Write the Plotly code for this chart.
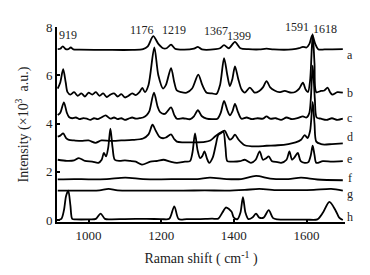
import plotly.graph_objects as go

# ---- data ----
a_x = [915, 922, 929, 937, 944, 951, 958, 975, 1050, 1120, 1150, 1163, 1178, 1192, 1205, 1215, 1227, 1238, 1260, 1290, 1301, 1312, 1350, 1362, 1373, 1386, 1403, 1418, 1440, 1470, 1490, 1510, 1560, 1580, 1590, 1600, 1608, 1616, 1624, 1632, 1650, 1700]
a_y = [7.08, 7.1, 7.2, 7.08, 7.08, 7.15, 7.07, 7.06, 7.05, 7.05, 7.08, 7.2, 7.62, 7.3, 7.12, 7.12, 7.27, 7.1, 7.06, 7.1, 7.18, 7.07, 7.08, 7.12, 7.25, 7.12, 7.38, 7.12, 7.08, 7.07, 7.1, 7.07, 7.07, 7.12, 7.18, 7.15, 7.3, 7.66, 7.3, 7.08, 7.07, 7.08]

b_x = [915, 922, 930, 937, 942, 950, 960, 970, 980, 990, 1000, 1010, 1020, 1030, 1040, 1050, 1060, 1070, 1080, 1090, 1100, 1110, 1120, 1130, 1140, 1148, 1155, 1165, 1181, 1192, 1205, 1213, 1227, 1236, 1243, 1255, 1270, 1285, 1302, 1313, 1325, 1340, 1352, 1362, 1373, 1382, 1389, 1396, 1403, 1412, 1421, 1430, 1444, 1457, 1470, 1480, 1490, 1500, 1512, 1525, 1540, 1558, 1570, 1580, 1590, 1598, 1604, 1610, 1617, 1622, 1627, 1640, 1649, 1658, 1665, 1671, 1685, 1700]
b_y = [5.45, 5.7, 6.25, 5.7, 5.3, 5.2, 5.3, 5.15, 5.25, 5.12, 5.28, 5.2, 5.3, 5.15, 5.25, 5.1, 5.2, 5.25, 5.12, 5.22, 5.08, 5.15, 5.25, 5.18, 5.3, 5.48, 5.3, 5.6, 7.15, 6.0, 5.45, 5.6, 6.3, 5.7, 5.37, 5.3, 5.28, 5.45, 6.03, 5.6, 5.28, 5.25, 5.22, 5.6, 6.71, 6.0, 5.55, 5.85, 6.37, 5.85, 5.42, 5.28, 5.49, 5.28, 5.35, 5.5, 5.76, 5.5, 5.37, 5.3, 5.35, 5.28, 5.32, 5.45, 5.69, 5.4, 5.3, 5.8, 7.7, 6.5, 5.3, 5.35, 5.37, 5.49, 5.3, 5.2, 5.3, 5.28]

c_x = [915, 922, 932, 940, 946, 955, 965, 975, 985, 995, 1005, 1015, 1025, 1035, 1047, 1060, 1070, 1080, 1090, 1100, 1110, 1120, 1130, 1140, 1150, 1160, 1167, 1180, 1190, 1197, 1210, 1227, 1236, 1243, 1260, 1280, 1290, 1301, 1312, 1325, 1340, 1355, 1364, 1373, 1382, 1389, 1396, 1403, 1412, 1421, 1435, 1450, 1465, 1480, 1490, 1500, 1515, 1530, 1545, 1560, 1575, 1590, 1600, 1608, 1617, 1623, 1628, 1640, 1655, 1670, 1685, 1700]
c_y = [4.35, 4.45, 4.88, 4.45, 4.27, 4.22, 4.25, 4.18, 4.22, 4.2, 4.15, 4.22, 4.18, 4.25, 4.34, 4.2, 4.25, 4.18, 4.22, 4.15, 4.2, 4.25, 4.2, 4.22, 4.25, 4.35, 4.5, 5.28, 4.7, 4.47, 4.4, 4.67, 4.35, 4.2, 4.22, 4.18, 4.3, 4.55, 4.3, 4.2, 4.18, 4.2, 4.45, 4.94, 4.55, 4.34, 4.5, 4.81, 4.45, 4.2, 4.25, 4.18, 4.22, 4.2, 4.3, 4.2, 4.22, 4.15, 4.25, 4.18, 4.22, 4.3, 4.25, 4.45, 6.4, 5.0, 4.25, 4.2, 4.15, 4.22, 4.15, 4.2]

d_x = [915, 922, 930, 938, 946, 960, 980, 1000, 1019, 1035, 1060, 1090, 1120, 1150, 1165, 1176, 1185, 1195, 1205, 1213, 1227, 1236, 1243, 1260, 1290, 1320, 1335, 1348, 1360, 1367, 1375, 1382, 1389, 1396, 1403, 1412, 1420, 1430, 1460, 1490, 1521, 1550, 1570, 1585, 1595, 1603, 1610, 1617, 1622, 1627, 1640, 1649, 1670, 1700]
d_y = [3.46, 3.5, 3.59, 3.4, 3.32, 3.3, 3.28, 3.3, 3.2, 3.3, 3.28, 3.3, 3.32, 3.38, 3.55, 3.95, 3.7, 3.45, 3.39, 3.42, 3.55, 3.35, 3.25, 3.22, 3.22, 3.24, 3.3, 3.46, 3.6, 3.66, 3.7, 3.5, 3.33, 3.4, 3.54, 3.35, 3.22, 3.1, 3.05, 3.08, 3.1, 3.15, 3.22, 3.33, 3.52, 3.4, 3.7, 4.9, 4.0, 3.25, 3.15, 3.13, 3.15, 3.18]

e_x = [915, 940, 960, 973, 990, 1010, 1027, 1036, 1042, 1048, 1054, 1060, 1066, 1072, 1085, 1100, 1115, 1130, 1147, 1170, 1190, 1206, 1225, 1243, 1265, 1279, 1286, 1293, 1300, 1307, 1313, 1319, 1326, 1332, 1342, 1350, 1357, 1364, 1371, 1377, 1382, 1395, 1417, 1430, 1447, 1460, 1471, 1480, 1488, 1496, 1505, 1520, 1530, 1545, 1553, 1560, 1567, 1576, 1584, 1595, 1605, 1612, 1617, 1622, 1627, 1645, 1670, 1700]
e_y = [2.5, 2.45, 2.47, 2.57, 2.45, 2.42, 2.37, 2.5, 2.78, 2.64, 3.0, 3.79, 3.0, 2.5, 2.45, 2.47, 2.45, 2.42, 2.3, 2.42, 2.45, 2.5, 2.42, 2.37, 2.42, 2.44, 2.8, 3.59, 2.9, 2.57, 2.65, 2.85, 2.55, 2.37, 2.6, 3.1, 3.52, 3.6, 3.66, 3.0, 2.44, 2.42, 2.44, 2.5, 2.37, 2.5, 2.85, 2.5, 2.55, 2.64, 2.44, 2.4, 2.37, 2.5, 2.85, 2.5, 2.6, 2.78, 2.44, 2.37, 2.4, 2.7, 3.08, 2.7, 2.37, 2.44, 2.42, 2.44]

f_x = [915, 960, 1000, 1050, 1101, 1150, 1200, 1250, 1300, 1334, 1380, 1420, 1461, 1500, 1550, 1585, 1630, 1700]
f_y = [1.69, 1.7, 1.69, 1.7, 1.76, 1.7, 1.69, 1.7, 1.7, 1.76, 1.7, 1.7, 1.83, 1.72, 1.7, 1.76, 1.68, 1.65]

g_x = [915, 960, 1000, 1030, 1055, 1080, 1130, 1200, 1260, 1320, 1380, 1430, 1470, 1520, 1570, 1620, 1668, 1700]
g_y = [1.22, 1.22, 1.22, 1.23, 1.29, 1.23, 1.22, 1.22, 1.22, 1.23, 1.22, 1.25, 1.29, 1.24, 1.24, 1.25, 1.29, 1.22]

h_x = [915, 925, 932, 938, 944, 950, 955, 965, 1000, 1020, 1033, 1045, 1060, 1100, 1160, 1200, 1222, 1236, 1248, 1270, 1300, 1340, 1357, 1368, 1378, 1387, 1394, 1400, 1410, 1418, 1425, 1432, 1440, 1452, 1461, 1470, 1482, 1496, 1508, 1520, 1560, 1600, 1630, 1645, 1663, 1680, 1690, 1700]
h_y = [0.0, 0.05, 0.4, 1.0, 1.22, 0.6, 0.05, 0.03, 0.03, 0.05, 0.27, 0.05, 0.03, 0.04, 0.05, 0.04, 0.05, 0.57, 0.04, 0.04, 0.04, 0.06, 0.06, 0.3, 0.52, 0.45, 0.34, 0.1, 0.04, 0.3, 0.95, 0.3, 0.04, 0.12, 0.27, 0.1, 0.1, 0.41, 0.08, 0.03, 0.02, 0.02, 0.03, 0.3, 0.75, 0.4, 0.1, 0.0]

series_names = ["a", "b", "c", "d", "e", "f", "g", "h"]
series_label_y = [6.83, 5.28, 4.23, 3.46, 2.52, 1.75, 1.1, 0.12]

peak_labels = ["919", "1176", "1219", "1367", "1399", "1591", "1618"]
peak_label_x = [943, 1148, 1236, 1352, 1415, 1575, 1652]
peak_label_y = [7.68, 7.89, 7.89, 7.85, 7.64, 8.0, 7.93]

x_ticks = [1000, 1200, 1400, 1600]
y_ticks = [0, 2, 4, 6, 8]

# ---- figure ----
FONT = "Liberation Serif"
fig = go.Figure()
all_x = [a_x, b_x, c_x, d_x, e_x, f_x, g_x, h_x]
all_y = [a_y, b_y, c_y, d_y, e_y, f_y, g_y, h_y]
for name, xs, ys in zip(series_names, all_x, all_y):
    fig.add_trace(go.Scatter(x=xs, y=ys, mode="lines", name=name,
                             line=dict(color="black", width=1.8, shape="spline", smoothing=0.8),
                             showlegend=False, hoverinfo="skip"))

annotations = []
for name, yv in zip(series_names, series_label_y):
    annotations.append(dict(x=1.017, y=yv, xref="paper", yref="y", text=name,
                            showarrow=False, xanchor="center", yanchor="middle",
                            font=dict(family=FONT, size=12, color="#222")))
for t, xv, yv in zip(peak_labels, peak_label_x, peak_label_y):
    annotations.append(dict(x=xv, y=yv, xref="x", yref="y", text=t,
                            showarrow=False, xanchor="center", yanchor="middle",
                            font=dict(family=FONT, size=12, color="#222")))

# the page body adds an 8px offset, so the margins are shifted to compensate
fig.update_layout(
    width=370, height=275,
    margin=dict(l=49, r=33, t=15, b=61),
    paper_bgcolor="white", plot_bgcolor="white",
    font=dict(family=FONT, size=13, color="#222"),
    annotations=annotations,
    xaxis=dict(range=[913, 1706], tickvals=x_ticks, ticks="inside", ticklen=3,
               tickwidth=1.5, tickcolor="black", showline=True, linecolor="black",
               linewidth=2, showgrid=False, zeroline=False,
               title=dict(text="Raman shift ( cm<sup>-1</sup> )", standoff=12,
                          font=dict(family=FONT, size=14)),
               tickfont=dict(family=FONT, size=13)),
    yaxis=dict(range=[-0.08, 8.0], tickvals=y_ticks, ticks="inside", ticklen=3,
               tickwidth=1.5, tickcolor="black", showline=True, linecolor="black",
               linewidth=2, showgrid=False, zeroline=False,
               title=dict(text="Intensity (×10<sup>3</sup>  a.u.)", standoff=14,
                          font=dict(family=FONT, size=14)),
               tickfont=dict(family=FONT, size=13)),
)

fig.write_html("out.html")
